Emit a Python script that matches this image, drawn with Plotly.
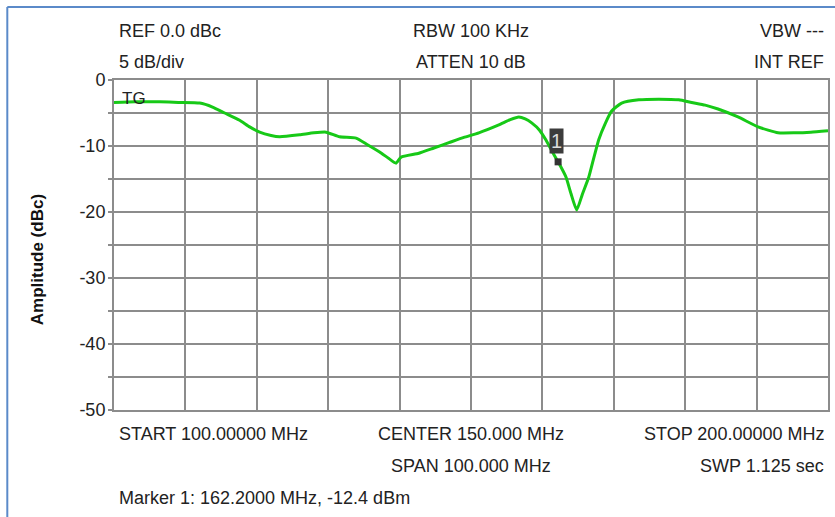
import plotly.graph_objects as go

# Trace data (frequency in MHz, amplitude in dBc)
freq_mhz = [100.0, 103.0, 106.4, 109.0, 112.0, 113.8, 115.5, 117.6, 119.0, 120.4, 122.0, 123.2,
            126.0, 128.0, 129.7, 131.6, 133.9, 135.5, 137.2, 138.5, 139.5, 140.2, 142.7,
            144.8, 146.9, 149.0, 151.1, 153.9, 155.5, 156.7, 157.6, 158.5, 159.6, 160.5,
            161.4, 162.2, 163.3, 164.0, 164.8, 165.6, 166.5, 167.2, 167.9, 168.8, 169.7,
            171.1, 173.5, 176.3, 179.1, 180.9, 182.8, 184.6, 187.4, 190.2, 193.0, 195.4,
            197.6, 200.0]
amp_dbc = [-3.4, -3.3, -3.3, -3.4, -3.5, -4.1, -5.0, -6.1, -7.1, -7.9, -8.4, -8.6,
           -8.3, -8.0, -7.9, -8.6, -8.8, -9.8, -10.9, -11.9, -12.6, -11.7, -11.1,
           -10.3, -9.5, -8.7, -8.0, -6.8, -6.0, -5.6, -5.9, -6.5, -7.6, -9.1,
           -10.9, -12.4, -14.7, -17.2, -19.7, -17.3, -14.7, -11.8, -9.0, -6.6, -4.7,
           -3.5, -3.0, -2.9, -3.0, -3.4, -3.8, -4.4, -5.6, -7.1, -8.0, -8.0,
           -7.9, -7.7]

marker_freq = [162.2]
marker_amp = [-12.4]

y_tickvals = [0, -5, -10, -15, -20, -25, -30, -35, -40, -45, -50]
y_ticktext = ["0", "", "-10", "", "-20", "", "-30", "", "-40", "", "-50"]
x_gridvals = [100, 110, 120, 130, 140, 150, 160, 170, 180, 190, 200]

W, H = 835, 517
L, R, T, B = 114, 830, 80, 410
FAM = "Liberation Sans, Arial, sans-serif"


def px(x):
    return (x - L) / (R - L)


def py(y):
    return (B - y) / (B - T)


fig = go.Figure()
fig.add_trace(go.Scatter(x=freq_mhz, y=amp_dbc, mode="lines",
                         line=dict(color="#17c917", width=3, shape="spline", smoothing=0.5),
                         hoverinfo="x+y", showlegend=False))
fig.add_trace(go.Scatter(x=marker_freq, y=marker_amp, mode="markers",
                         marker=dict(symbol="square", size=7, color="#333333"),
                         showlegend=False))

font = dict(family=FAM, size=18, color="#222222")
texts = [
    ("REF 0.0 dBc", 117, 31, "left"),
    ("5 dB/div", 117, 62, "left"),
    ("RBW 100 KHz", 472, 31, "center"),
    ("ATTEN 10 dB", 472, 62, "center"),
    ("VBW ---", 828, 31, "right"),
    ("INT REF", 828, 62, "right"),
    ("START 100.00000 MHz", 117, 434, "left"),
    ("CENTER 150.000 MHz", 472, 434, "center"),
    ("STOP 200.00000 MHz", 828, 434, "right"),
    ("SPAN 100.000 MHz", 472, 466, "center"),
    ("SWP 1.125 sec", 828, 466, "right"),
    ("Marker 1: 162.2000 MHz, -12.4 dBm", 117, 498, "left"),
]
annotations = []
for txt, x, y, anc in texts:
    annotations.append(dict(text=txt, x=px(x), y=py(y), xref="paper", yref="paper",
                            xanchor=anc, yanchor="middle", showarrow=False, font=font))
annotations.append(dict(text="TG", x=px(120), y=py(98), xref="paper", yref="paper",
                        xanchor="left", yanchor="middle", showarrow=False,
                        font=dict(family=FAM, size=17, color="#222222")))
annotations.append(dict(text="<b>Amplitude (dBc)</b>", x=px(37), y=py(260), xref="paper", yref="paper",
                        xanchor="center", yanchor="middle", showarrow=False, textangle=-90,
                        font=dict(family=FAM, size=17, color="#111111")))
annotations.append(dict(text="1", x=marker_freq[0], y=marker_amp[0], xref="x", yref="y",
                        xshift=-2, yshift=21, showarrow=False, bgcolor="#3c3c3c",
                        borderpad=1, font=dict(family=FAM, size=20, color="#dcdcdc")))

shapes = [
    dict(type="line", xref="paper", yref="paper", x0=px(7), x1=px(7), y0=py(7), y1=py(530),
         line=dict(color="#5b8ac9", width=2)),
    dict(type="line", xref="paper", yref="paper", x0=px(7), x1=px(840), y0=py(7), y1=py(7),
         line=dict(color="#5b8ac9", width=2)),
]

fig.update_layout(
    width=W, height=H,
    margin=dict(l=L, r=W - R, t=T, b=H - B),
    paper_bgcolor="white", plot_bgcolor="white",
    annotations=annotations, shapes=shapes,
    xaxis=dict(range=[100, 200], tickvals=x_gridvals, showticklabels=False,
               showgrid=True, gridcolor="#8c8c8c", gridwidth=2, zeroline=False,
               showline=True, linecolor="#8c8c8c", linewidth=2, mirror=True, ticks=""),
    yaxis=dict(range=[-50, 0], tickvals=y_tickvals, ticktext=y_ticktext,
               showgrid=True, gridcolor="#8c8c8c", gridwidth=2, zeroline=False,
               showline=True, linecolor="#8c8c8c", linewidth=2, mirror=True,
               ticks="outside", ticklen=4, tickcolor="#8c8c8c", tickwidth=2,
               ticklabelstandoff=-1,
               tickfont=dict(family=FAM, size=18, color="#222222")),
)

fig.write_html("out.html", config={"displayModeBar": False},
               post_script="document.body.style.margin='0';document.body.style.padding='0';"
                           "document.body.style.overflow='hidden';")
